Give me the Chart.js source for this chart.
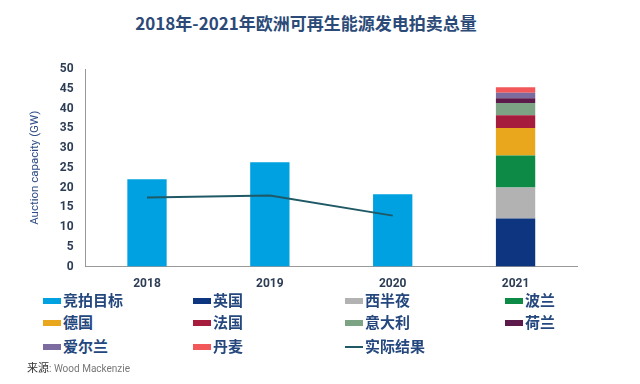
<!DOCTYPE html>
<html>
<head>
<meta charset="utf-8">
<script src="https://cdn.jsdelivr.net/npm/chart.js@4"></script>
<style>
  body { margin: 0; width: 640px; height: 384px; background: #fff; font-family: "Noto Sans CJK SC", "Noto Sans", sans-serif; position: relative; overflow: hidden; }
  #title { position: absolute; top: 10px; left: -14px; width: 640px; text-align: center; font-size: 17px; font-weight: bold; color: #2b4a78; }
  #wrap { position: absolute; left: 0; top: 52px; width: 580px; height: 241px; }
  .lg { position: absolute; font-size: 15px; font-weight: bold; color: #24477e; height: 20px; line-height: 20px; }
  .sw { display: inline-block; width: 18px; height: 6px; vertical-align: middle; margin-right: 2px; position: relative; top: -1px; }
  #src { position: absolute; left: 27px; top: 359px; font-size: 11px; color: #333; }
  #src span { color: #777; font-size: 10px; font-family: Roboto, sans-serif; }
</style>
</head>
<body>
<div id="title">2018年-2021年欧洲可再生能源发电拍卖总量</div>
<div id="wrap"><canvas id="chart"></canvas></div>
<div id="legend"></div>
<div id="src">来源<span>: Wood Mackenzie</span></div>
<script>
// data
const years = ['2018', '2019', '2020', '2021'];
const targetValues = [22.1, 26.4, 18.3, null];
const actualValues = [17.5, 18.0, 12.9, null];

// 2021 by country, bottom to top
const countries = ['英国', '西半夜', '波兰', '德国', '法国', '意大利', '荷兰', '爱尔兰', '丹麦'];
const country2021 = [12.2, 7.8, 8.1, 7.0, 3.2, 3.1, 1.2, 1.4, 1.4];
const countryColors = ['#0d3580', '#b2b2b2', '#0d8a45', '#e9a71e', '#a51c3c', '#7ba384', '#5c1a4a', '#7c6b9f', '#f2585a'];

const targetColor = '#00a1e1';
const lineColor = '#1f5966';
const yTicks = [0, 5, 10, 15, 20, 25, 30, 35, 40, 45, 50];

const datasets = [{
    label: '竞拍目标',
    data: targetValues,
    backgroundColor: targetColor,
    order: 1
}];

countries.forEach((name, i) => {
    datasets.push({
        label: name,
        data: years.map((y, j) => j === 3 ? country2021[i] : null),
        backgroundColor: countryColors[i],
        order: 1
    });
});

datasets.push({
    type: 'line',
    label: '实际结果',
    data: actualValues,
    borderColor: lineColor,
    borderWidth: 2,
    pointRadius: 0,
    tension: 0,
    stack: 'line',
    order: 0
});

new Chart(document.getElementById('chart'), {
    type: 'bar',
    data: { labels: years, datasets: datasets },
    options: {
        responsive: true,
        maintainAspectRatio: false,
        animation: false,
        categoryPercentage: 0.64,
        barPercentage: 0.5,
        layout: { padding: { left: 28, right: 3, top: 17, bottom: 0 } },
        plugins: { legend: { display: false }, tooltip: { enabled: false } },
        scales: {
            x: {
                stacked: true,
                grid: { display: false },
                border: { color: '#999', width: 1 },
                ticks: { color: '#2d3d55', font: { size: 12, weight: 'bold', family: 'Roboto' }, padding: 2 }
            },
            y: {
                stacked: true,
                min: 0,
                max: 50,
                afterBuildTicks: axis => { axis.ticks = yTicks.map(v => ({ value: v })); },
                grid: { display: false },
                border: { color: '#999', width: 1 },
                ticks: { color: '#2d3d55', font: { size: 12, weight: 'bold', family: 'Roboto' }, padding: 4 },
                title: { display: true, text: 'Auction capacity (GW)', color: '#2e4c86', font: { size: 11.5, family: 'Roboto' }, padding: { top: 0, bottom: 14 } }
            }
        }
    }
});

// html legend in a 4-column grid like the original
const legendItems = [{ label: '竞拍目标', color: targetColor }]
    .concat(countries.map((c, i) => ({ label: c, color: countryColors[i] })))
    .concat([{ label: '实际结果', color: lineColor, line: true }]);
const colX = [43, 193, 345, 505];
const rowY = [290, 312, 336];
const legend = document.getElementById('legend');
legendItems.forEach((it, i) => {
    const d = document.createElement('div');
    d.className = 'lg';
    d.style.left = colX[i % 4] + 'px';
    d.style.top = rowY[Math.floor(i / 4)] + 'px';
    const h = it.line ? 2 : 6;
    d.innerHTML = '<span class="sw" style="background:' + it.color + ';height:' + h + 'px"></span>' + it.label;
    legend.appendChild(d);
});
</script>
</body>
</html>
